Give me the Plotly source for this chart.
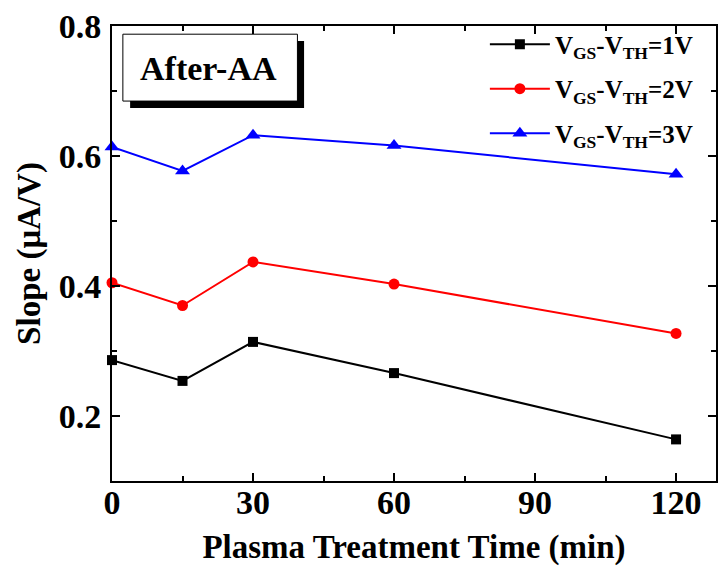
import plotly.graph_objects as go

time_min = [0, 15, 30, 60, 120]
slope_1v = [0.286, 0.254, 0.314, 0.266, 0.164]
slope_2v = [0.405, 0.370, 0.437, 0.403, 0.327]
slope_3v = [0.614, 0.577, 0.632, 0.616, 0.572]
series_names = ["<b>V<sub>GS</sub>-V<sub>TH</sub>=1V</b>",
                "<b>V<sub>GS</sub>-V<sub>TH</sub>=2V</b>",
                "<b>V<sub>GS</sub>-V<sub>TH</sub>=3V</b>"]
x_ticks = [0, 30, 60, 90, 120]
y_ticks = [0.2, 0.4, 0.6, 0.8]
x_tick_text = ["<b>0</b>", "<b>30</b>", "<b>60</b>", "<b>90</b>", "<b>120</b>"]
y_tick_text = ["<b>0.2</b>", "<b>0.4</b>", "<b>0.6</b>", "<b>0.8</b>"]

FONT = "Liberation Serif"

fig = go.Figure()
styles = [("black", "square", 10), ("red", "circle", 11), ("blue", "triangle-up", 13)]
for i, (vals, name, (col, sym, sz)) in enumerate(zip([slope_1v, slope_2v, slope_3v], series_names, styles)):
    fig.add_trace(go.Scatter(
        x=time_min, y=vals, mode="lines+markers", name=name,
        line=dict(color=col, width=2),
        marker=dict(color=col, symbol=sym, size=sz),
        legendgroup=f"g{i}", cliponaxis=False,
    ))

axis_common = dict(
    showline=True, linecolor="black", linewidth=2, mirror="ticks",
    ticks="inside", tickcolor="black", tickwidth=2, ticklen=8,
    showgrid=False, zeroline=False,
    tickfont=dict(family=FONT, size=34, color="black"),
)

fig.update_xaxes(
    range=[0, 128.5], tickvals=x_ticks, ticktext=x_tick_text, ticklabelstandoff=-10,
    minor=dict(ticks="inside", ticklen=5, tickwidth=1.5, tickcolor="black", dtick=15, tick0=0, showgrid=False),
    title=dict(text="<b>Plasma Treatment Time (min)</b>", font=dict(family=FONT, size=33, color="black"), standoff=15),
    **axis_common,
)
fig.update_yaxes(
    range=[0.1, 0.8], tickvals=y_ticks, ticktext=y_tick_text, ticklabelstandoff=2,
    minor=dict(ticks="inside", ticklen=5, tickwidth=1.5, tickcolor="black", dtick=0.1, tick0=0.1, showgrid=False),
    title=dict(text="<b>Slope (μA/V)</b>", font=dict(family=FONT, size=33, color="black"), standoff=8),
    **axis_common,
)

# After-AA label box with shadow
fig.add_shape(type="rect", xref="paper", yref="paper", x0=0.030, x1=0.318, y0=0.820, y1=0.967,
              fillcolor="black", line=dict(width=0), layer="above")
fig.add_shape(type="rect", xref="paper", yref="paper", x0=0.018, x1=0.307, y0=0.835, y1=0.982,
              fillcolor="white", line=dict(color="black", width=1), layer="above")
fig.add_annotation(text="<b>After-AA</b>", xref="paper", yref="paper", x=0.160, y=0.906,
                   xanchor="center", yanchor="middle",
                   showarrow=False, font=dict(family=FONT, size=34, color="black"))

fig.update_layout(
    width=719, height=569,
    margin=dict(l=112, r=1, t=26, b=88),
    plot_bgcolor="white", paper_bgcolor="white",
    showlegend=True,
    legend=dict(x=0.97, xanchor="right", y=1.01, yanchor="top", bgcolor="rgba(0,0,0,0)",
                font=dict(family=FONT, size=25, color="black"),
                tracegroupgap=9, itemwidth=60),
)

fig.write_html("out.html")
